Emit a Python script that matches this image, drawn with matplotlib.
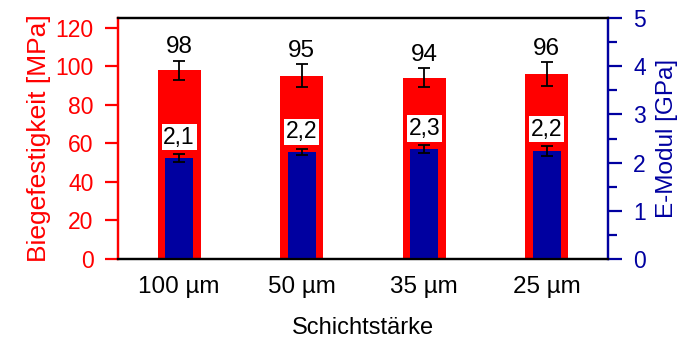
import numpy as np
import matplotlib.pyplot as plt

plt.rcParams['font.family'] = ['Liberation Sans', 'DejaVu Sans']

# Daten
schichten = ['100 µm', '50 µm', '35 µm', '25 µm']
festigkeit = [98, 95, 94, 96]          # MPa
festigkeit_err = [5, 6, 5, 6]
modul = [2.1, 2.22, 2.28, 2.24]        # GPa
modul_err = [0.08, 0.07, 0.08, 0.10]
festigkeit_txt = ['98', '95', '94', '96']
modul_txt = ['2,1', '2,2', '2,3', '2,2']

rot = '#FF0000'
blau = '#0000A0'

x = np.arange(1, len(schichten) + 1)

fig, ax = plt.subplots(figsize=(6.81, 3.42), dpi=100)
fig.subplots_adjust(left=0.173, right=0.893, top=0.947, bottom=0.243)
ax2 = ax.twinx()

ax.bar(x, festigkeit, width=0.35, color=rot, zorder=1)
ax.errorbar(x, festigkeit, yerr=festigkeit_err, fmt='none', ecolor='black',
            elinewidth=1.3, capsize=4.5, capthick=1.3, zorder=3)
for xi, v, e, t in zip(x, festigkeit, festigkeit_err, festigkeit_txt):
    ax.text(xi, v + e + 7, t, ha='center', va='center', fontsize=17.5, color='black')

ax2.bar(x, modul, width=0.23, color=blau, zorder=1)
ax2.errorbar(x, modul, yerr=modul_err, fmt='none', ecolor='black',
             elinewidth=1.3, capsize=4.5, capthick=1.3, zorder=3)
for xi, v, e, t in zip(x, modul, modul_err, modul_txt):
    ax2.text(xi, v + e + 0.35, t, ha='center', va='center', fontsize=16.5, color='black',
             bbox=dict(facecolor='white', edgecolor='none', pad=1.2))

ax.set_xlim(0.5, 4.5)
ax.set_ylim(0, 125)
ax2.set_ylim(0, 5)

ax.set_xticks(x)
ax.set_xticklabels(schichten, fontsize=17.5)
ax.tick_params(axis='x', length=0, pad=12)
ax.set_yticks(np.arange(0, 121, 20))
ax.tick_params(axis='y', colors=rot, labelsize=16.5, length=9.5, width=1.6, pad=8)
ax2.set_yticks(np.arange(0, 6, 1))
ax2.set_yticks(np.arange(0.5, 5, 1), minor=True)
ax2.tick_params(axis='y', which='major', colors=blau, labelsize=16.5, length=10, width=1.6, pad=8)
ax2.tick_params(axis='y', which='minor', colors=blau, length=6.5, width=1.6)

ax.set_xlabel('Schichtstärke', fontsize=17, labelpad=14)
ax.set_ylabel('Biegefestigkeit [MPa]', fontsize=19, color=rot, labelpad=3)
ax2.set_ylabel('E-Modul [GPa]', fontsize=17.5, color=blau, labelpad=7)

for a in (ax, ax2):
    a.spines['top'].set_color('black')
    a.spines['bottom'].set_color('black')
    a.spines['left'].set_color(rot)
    a.spines['right'].set_color(blau)
    for s in a.spines.values():
        s.set_linewidth(1.6)

plt.savefig('out.png', dpi=100)
